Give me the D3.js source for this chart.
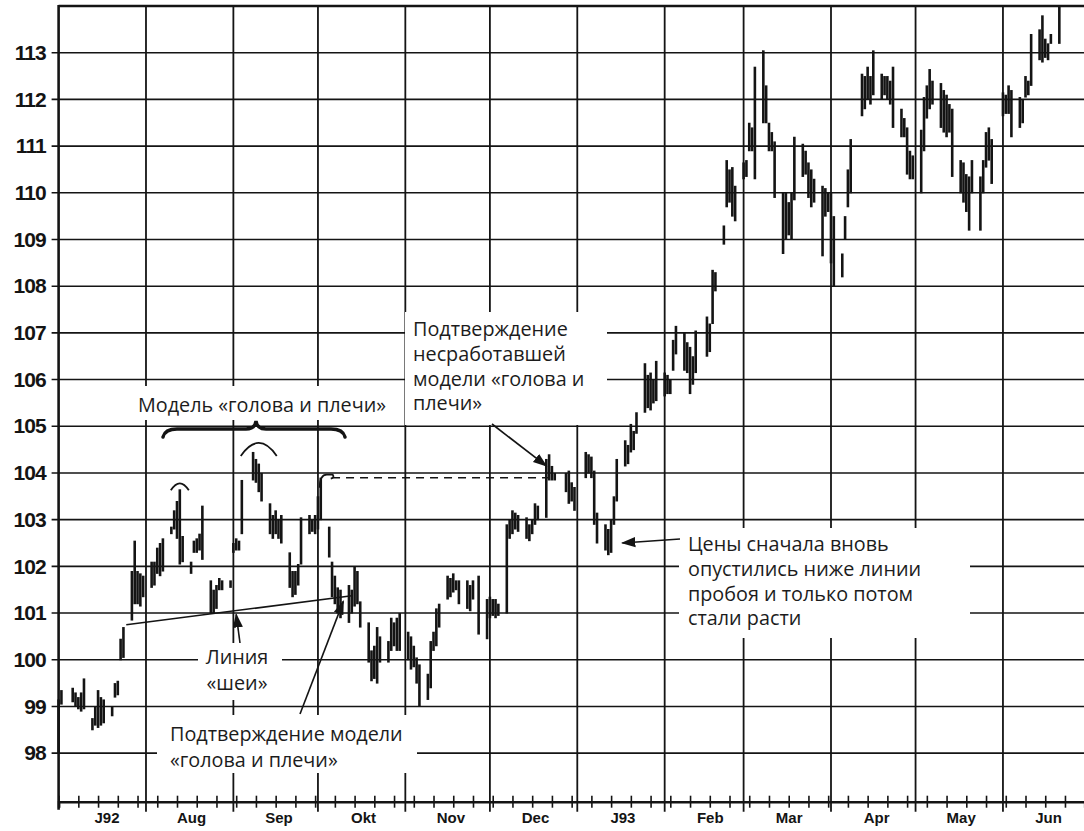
<!DOCTYPE html>
<html><head><meta charset="utf-8">
<script src="https://cdn.jsdelivr.net/npm/d3@7"></script>
<style>
body{margin:0;background:#fff}
svg{display:block}
.ann{font-family:"Open Sans","Noto Sans",sans-serif;font-size:19.8px;fill:#1c1c1c}
</style>
</head><body>
<svg id="c" width="1084" height="831"></svg>
<script>
// ---------- DATA ----------
const monthLabels = ["J92","Aug","Sep","Okt","Nov","Dec","J93","Feb","Mar","Apr","May","Jun"];
const yTickValues = [98,99,100,101,102,103,104,105,106,107,108,109,110,111,112,113];
const holidays = ["1992-07-03","1992-09-07","1992-11-26","1992-12-25","1993-01-01","1993-02-15","1993-04-09","1993-05-31"];
const firstDay = "1992-07-01", lastDay = "1993-06-21";

// daily highs, one line per month (Jul 1992 ... Jun 1993)
const highs = [
  99.15,99.35,99.4,99.3,99.2,99.3,99.6,98.75,99.0,99.35,99.2,99.15,99.0,99.5,99.55,100.45,100.7,101.9,102.55,101.9,101.85,101.8,
  102.1,102.1,102.4,102.5,102.6,102.85,103.2,103.4,103.65,102.65,102.1,102.55,102.6,102.7,103.3,101.7,101.5,101.6,101.75,101.7,101.7,
  102.5,102.6,102.55,103.85,104.45,104.3,104.2,104.0,103.35,103.1,103.2,103.0,103.1,102.3,101.9,101.9,102.05,103.05,103.1,103.0,103.1,
  103.5,103.9,102.85,102.1,101.8,101.55,101.5,101.6,101.5,102.0,101.9,101.25,100.8,100.2,100.3,100.7,100.5,100.4,100.9,100.8,100.9,101.0,
  100.6,100.5,100.3,100.05,99.9,99.7,100.4,100.6,101.1,101.2,101.8,101.75,101.85,101.7,101.7,101.7,101.6,101.7,101.8,101.3,
  101.35,101.3,101.3,101.2,102.9,103.0,103.2,103.15,103.1,103.05,102.9,103.0,103.35,103.3,104.3,104.4,104.15,104.0,104.0,104.05,103.8,103.7,
  104.45,104.4,104.35,104.05,103.15,102.9,102.8,103.0,103.5,104.3,104.7,104.6,105.05,104.9,105.3,106.35,106.1,106.15,106.0,106.4,
  106.15,106.1,106.0,106.85,107.15,107.0,106.8,106.7,106.5,107.05,107.35,107.2,108.35,108.3,109.3,110.7,110.5,110.55,110.15,
  110.65,110.7,111.5,111.4,112.7,113.05,112.3,111.5,111.3,111.1,110.0,110.0,109.8,110.0,111.2,111.05,110.9,110.65,110.5,110.3,110.15,110.1,110.0,
  110.0,109.5,108.7,109.5,110.5,111.15,112.55,112.5,112.7,112.5,113.05,112.55,112.5,112.5,112.4,112.7,111.8,111.6,111.4,110.9,110.8,
  111.35,112.05,112.3,112.65,112.4,112.35,112.2,112.1,111.9,111.8,110.7,110.65,110.4,110.35,110.7,110.35,110.7,111.3,111.4,111.15,
  112.15,112.1,112.3,112.2,112.05,112.0,112.5,112.4,113.4,113.5,113.8,113.3,113.2,113.4,114.0
];
// daily lows
const lows = [
  98.0,99.05,99.1,99.0,98.95,98.9,98.95,98.5,98.6,98.55,98.6,98.65,98.8,99.2,99.25,100.0,100.05,100.85,101.2,101.2,101.15,101.35,
  101.55,101.6,101.85,101.8,101.9,102.7,102.8,102.6,102.05,102.1,101.85,102.3,102.3,102.35,102.15,101.0,101.0,101.1,101.5,101.5,101.55,
  102.3,102.35,102.35,102.7,103.85,103.8,103.6,103.4,102.7,102.6,102.7,102.6,102.5,101.55,101.35,101.4,101.6,102.05,102.7,102.75,102.7,
  102.8,103.0,102.2,101.35,101.2,101.0,100.9,100.8,101.0,101.15,101.2,100.7,99.95,99.55,99.6,99.5,99.95,99.95,100.2,100.3,100.2,100.2,
  100.0,99.8,99.85,99.5,99.0,99.15,99.4,100.2,100.3,100.7,101.3,101.35,101.45,101.5,101.2,101.1,101.05,101.3,100.55,100.45,
  100.9,100.95,100.9,100.95,101.0,102.6,102.7,102.8,102.75,102.6,102.55,102.7,102.9,103.0,103.05,103.85,103.85,103.85,103.6,103.35,103.4,103.2,
  103.9,104.0,103.9,102.9,102.5,102.35,102.25,102.3,102.9,103.4,104.15,104.2,104.45,104.5,104.85,105.3,105.4,105.35,105.5,105.55,
  105.65,105.7,105.7,106.2,106.55,106.2,106.15,105.7,105.9,106.15,106.5,106.6,107.2,107.9,108.9,109.7,109.8,109.5,109.4,
  110.3,110.35,110.9,110.9,110.3,111.5,111.5,110.9,110.9,109.9,108.7,109.0,109.1,109.0,109.85,110.35,110.4,109.9,109.7,109.8,108.65,109.5,109.6,
  108.5,108.0,108.2,109.0,109.7,110.0,111.65,111.8,112.0,111.9,112.1,112.0,112.1,112.0,111.9,111.4,111.2,111.2,110.4,110.3,110.3,
  110.0,110.9,111.6,111.8,111.9,111.4,111.3,111.2,111.3,110.35,110.0,109.8,109.6,109.2,110.0,109.2,110.0,110.55,110.7,110.2,
  111.65,111.7,111.7,111.2,111.4,111.5,112.05,112.1,112.3,112.85,112.8,112.9,112.85,113.2,113.2
];

// annotation anchors (date, price)
const neckline = [["1992-07-25",100.75],["1992-10-13",101.37]];
const brokenLevel = [["1992-10-06",103.9],["1992-12-22",103.9]];
const shoulderPeaks = [["1992-08-13",103.65],["1992-09-10",104.45],["1992-10-02",103.9]];

// ---------- CHART ----------
const parse = d3.timeParse("%Y-%m-%d"), fmt = d3.timeFormat("%Y-%m-%d");
const svg = d3.select("#c");
const x = d3.scaleTime().domain([new Date(1992,6,1), new Date(1993,5,30)]).range([58.6, 1084.7]);
const y = d3.scaleLinear().domain([96.96, 114.0]).range([801.7, 6]);
const L = 58.6, R = 1084, T = 6, B = 801.7;

const days = d3.timeDay.range(parse(firstDay), d3.timeDay.offset(parse(lastDay),1))
  .filter(d => d.getDay()>0 && d.getDay()<6 && !holidays.includes(fmt(d)));
const n = Math.min(days.length, highs.length, lows.length);
const bars = d3.range(n).map(i => ({date: days[i], hi: highs[i], lo: lows[i]}));

const ink = "#141414";
// horizontal grid
svg.append("g").selectAll("line").data(yTickValues).join("line")
  .attr("x1", L-7).attr("x2", R).attr("y1", d=>y(d)).attr("y2", d=>y(d))
  .attr("stroke", ink).attr("stroke-width", 1.6);
// vertical month grid
const monthStarts = d3.timeMonth.range(new Date(1992,7,1), new Date(1993,5,2));
svg.append("g").selectAll("line").data(monthStarts).join("line")
  .attr("x1", d=>x(d)).attr("x2", d=>x(d)).attr("y1", T).attr("y2", B+10)
  .attr("stroke", ink).attr("stroke-width", 1.8);

// white boxes behind annotation texts (they interrupt the grid)
const boxes = [
  [130,386,265,34],   // model
  [198,643,84,57],    // neckline
  [157,715,260,58],   // confirmation
  [405,312,202,113],  // failed confirmation
  [679,528,291,110]   // prices
];
svg.append("g").selectAll("rect").data(boxes).join("rect")
  .attr("x",d=>d[0]).attr("y",d=>d[1]).attr("width",d=>d[2]).attr("height",d=>d[3]).attr("fill","#fff");

// frame
svg.append("line").attr("x1",L).attr("x2",R).attr("y1",T).attr("y2",T).attr("stroke",ink).attr("stroke-width",2.6);
svg.append("line").attr("x1",L).attr("x2",L).attr("y1",T-1).attr("y2",B+8).attr("stroke",ink).attr("stroke-width",2.6);

// bottom axis with weekly ticks
const xAxis = d3.axisBottom(x).tickValues(d3.timeWednesday.range(new Date(1992,6,1), new Date(1993,6,1))).tickSize(6).tickFormat("");
const gx = svg.append("g").attr("transform",`translate(0,${B})`).call(xAxis);
gx.select(".domain").attr("stroke",ink).attr("stroke-width",2.6);
gx.selectAll(".tick line").attr("y1",-6).attr("stroke",ink).attr("stroke-width",1.6);

// month labels
const monthMids = d3.timeMonth.range(new Date(1992,6,1), new Date(1993,6,1)).map((d,i) => d3.timeDay.offset(d, i===0 ? 17 : 16));
const xLab = d3.axisBottom(x).tickValues(monthMids).tickSize(0).tickFormat((d,i)=>monthLabels[i]);
const gl = svg.append("g").attr("transform",`translate(0,${B+8})`).call(xLab);
gl.select(".domain").remove();
gl.selectAll("text").attr("font-family","'Liberation Sans',Arial,sans-serif").attr("font-weight","bold")
  .attr("font-size","15px").attr("fill",ink);

// y axis labels
const yAxis = d3.axisLeft(y).tickValues(yTickValues).tickSize(0).tickPadding(13).tickFormat(d3.format("d"));
const gy = svg.append("g").attr("transform",`translate(${L},0)`).call(yAxis);
gy.select(".domain").remove();
gy.selectAll("text").attr("font-family","'Liberation Sans',Arial,sans-serif").attr("font-weight","bold")
  .attr("font-size","21px").attr("letter-spacing","-1").attr("fill",ink);

// price bars
svg.append("g").selectAll("line").data(bars).join("line")
  .attr("x1",d=>x(d.date)).attr("x2",d=>x(d.date))
  .attr("y1",d=>y(Math.min(d.hi,114))).attr("y2",d=>y(d.lo)+0.5)
  .attr("stroke",ink).attr("stroke-width",2.6);

// neckline
const P = p => [x(parse(p[0])), y(p[1])];
svg.append("line").attr("x1",P(neckline[0])[0]).attr("y1",P(neckline[0])[1])
  .attr("x2",P(neckline[1])[0]).attr("y2",P(neckline[1])[1]).attr("stroke",ink).attr("stroke-width",1.6);
// dashed broken level
svg.append("line").attr("x1",P(brokenLevel[0])[0]).attr("y1",P(brokenLevel[0])[1])
  .attr("x2",P(brokenLevel[1])[0]).attr("y2",P(brokenLevel[1])[1]).attr("stroke",ink).attr("stroke-width",1.5)
  .attr("stroke-dasharray","8,6");

// arcs over shoulders / head
const [ls, hd, rs] = shoulderPeaks.map(P);
svg.append("path").attr("d",`M${ls[0]-9},${ls[1]+1} Q${ls[0]},${ls[1]-13} ${ls[0]+9},${ls[1]+1}`)
  .attr("fill","none").attr("stroke",ink).attr("stroke-width",1.8);
svg.append("path").attr("d",`M${hd[0]-18},${hd[1]+4} Q${hd[0]},${hd[1]-22} ${hd[0]+18},${hd[1]+4}`)
  .attr("fill","none").attr("stroke",ink).attr("stroke-width",1.8);
svg.append("path").attr("d",`M${rs[0]-1},${rs[1]+10} Q${rs[0]-1},${rs[1]-3} ${rs[0]+6},${rs[1]-3} L${rs[0]+12},${rs[1]-3} Q${rs[0]+14},${rs[1]} ${rs[0]+10},${rs[1]+1}`)
  .attr("fill","none").attr("stroke",ink).attr("stroke-width",1.8);

// curly brace
const bx1 = 163, bx2 = 345, bxc = 256, byb = 437, bym = 429, byt = 421;
svg.append("path").attr("d",
  `M${bx1},${byb} Q${bx1+2},${bym} ${bx1+14},${bym} L${bxc-10},${bym} Q${bxc-1},${bym} ${bxc},${byt} Q${bxc+1},${bym} ${bxc+10},${bym} L${bx2-14},${bym} Q${bx2-2},${bym} ${bx2},${byb}`)
  .attr("fill","none").attr("stroke",ink).attr("stroke-width",3.4).attr("stroke-linecap","round");

// arrows
const defs = svg.append("defs");
defs.append("marker").attr("id","ah").attr("viewBox","0 0 10 10").attr("refX",9).attr("refY",5)
  .attr("markerWidth",9).attr("markerHeight",9).attr("orient","auto-start-reverse")
  .append("path").attr("d","M0,1.5 L10,5 L0,8.5 Z").attr("fill",ink);
function arrow(x0,y0,p){
  const [x1,y1] = P(p);
  svg.append("line").attr("x1",x0).attr("y1",y0).attr("x2",x1).attr("y2",y1)
    .attr("stroke",ink).attr("stroke-width",1.6).attr("marker-end","url(#ah)");
}
arrow(240,643,["1992-09-02",100.97]);
arrow(300,714,["1992-10-10",101.25]);
arrow(492,424,["1992-12-21",104.15]);
arrow(680,539,["1993-01-17",102.5]);

// annotation texts
function txt(lines, x0, y0, lh, anchor){
  lines.forEach((s,i)=>svg.append("text").attr("class","ann").attr("text-anchor",anchor||"start")
    .attr("x",x0).attr("y",y0+i*lh).text(s));
}
txt(["Модель «голова и плечи»"], 262, 412, 24, "middle");
txt(["Линия","«шеи»"], 237, 664, 26, "middle");
txt(["Подтверждение модели","«голова и плечи»"], 170, 741, 25.5);
txt(["Подтверждение","несработавшей","модели «голова и","плечи»"], 413, 336, 24.8);
txt(["Цены сначала вновь","опустились ниже линии","пробоя и только потом","стали расти"], 688, 551, 24.8);
</script>
</body></html>
